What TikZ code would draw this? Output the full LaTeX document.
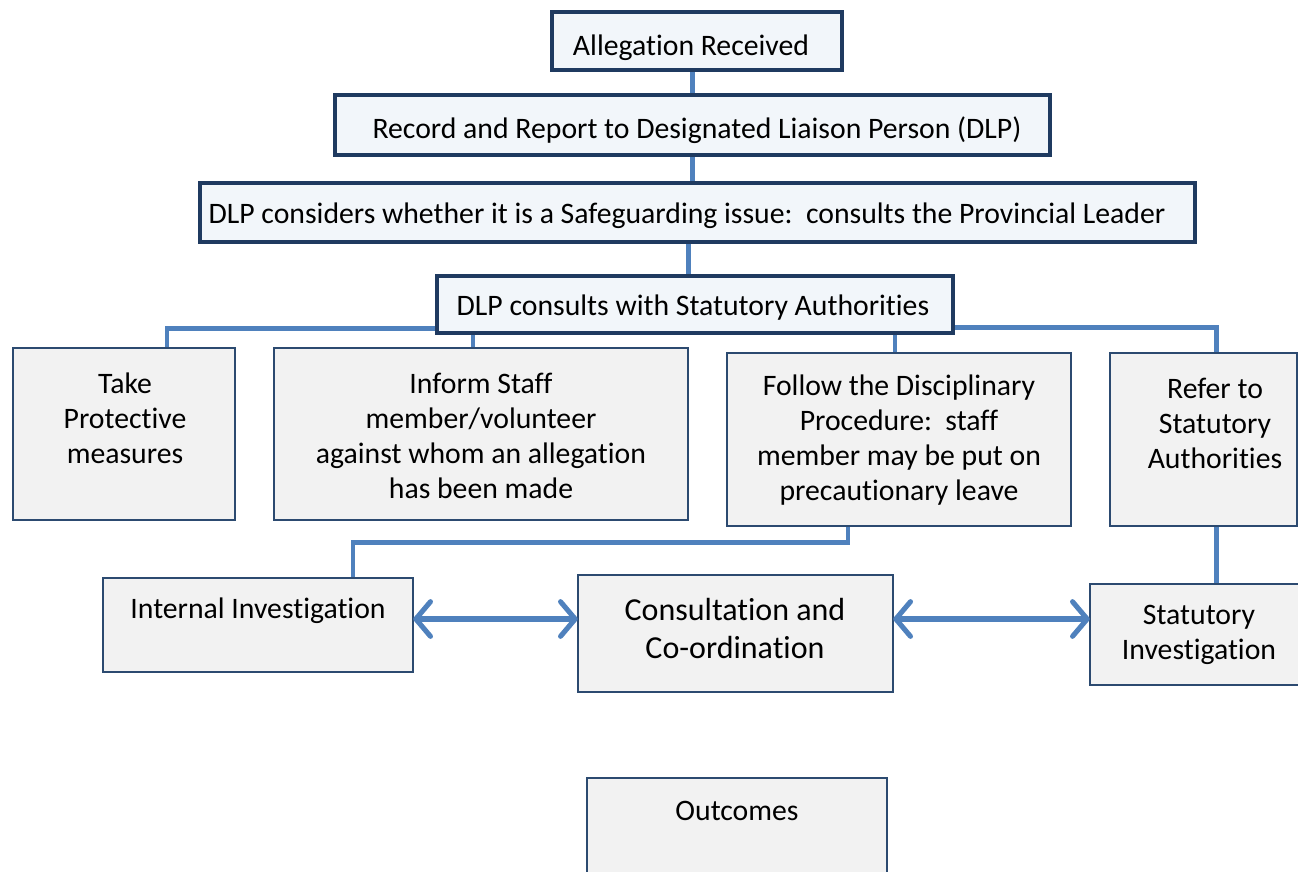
\documentclass[tikz,border=0pt]{standalone}
\usepackage{fontspec}
\setmainfont{Carlito}[Ligatures=NoCommon]
\usetikzlibrary{arrows.meta,calc}
\definecolor{lineblue}{HTML}{4F81BD}
\definecolor{navy}{HTML}{1F3A60}
\definecolor{topfill}{HTML}{F2F6FA}
\definecolor{lowfill}{HTML}{F2F2F2}
\definecolor{lowedge}{HTML}{2C4A70}
\tikzset{
  topbox/.style={draw=navy, line width=3pt, fill=topfill, inner sep=0pt},
  lowbox/.style={draw=lowedge, line width=1.4pt, fill=lowfill, inner sep=0pt},
  txt/.style={font=\fontsize{22.3pt}{26.3pt}\selectfont, align=center, inner sep=0pt},
  bigtxt/.style={font=\fontsize{24pt}{28.5pt}\selectfont, align=center, inner sep=0pt},
  conn/.style={draw=lineblue, line width=3.6pt},
  dbl/.style={draw=lineblue, line width=3.8pt, {Straight Barb[length=11pt,width=26pt,round]}-{Straight Barb[length=11pt,width=26pt,round]}},
  frame/.style={inner sep=0pt},
}
\begin{document}
\begin{tikzpicture}[x=0.75pt, y=-0.75pt]
\useasboundingbox (0,0) rectangle (1298,871);

% frames of the boxes
\node[frame, minimum width=290*0.75pt, minimum height=58*0.75pt] (b1) at (697,41) {};
\node[frame, minimum width=715*0.75pt, minimum height=60*0.75pt] (b2) at (692.5,125) {};
\node[frame, minimum width=995*0.75pt, minimum height=59*0.75pt] (b3) at (697.5,212.5) {};
\node[frame, minimum width=516*0.75pt, minimum height=57*0.75pt] (b4) at (695,304.5) {};
\node[frame, minimum width=222*0.75pt, minimum height=172*0.75pt] (take) at (124,434) {};
\node[frame, minimum width=414*0.75pt, minimum height=172*0.75pt] (inform) at (481,434) {};
\node[frame, minimum width=344*0.75pt, minimum height=173*0.75pt] (follow) at (899,439.5) {};
\node[frame, minimum width=187*0.75pt, minimum height=173*0.75pt] (refer) at (1203.5,439.5) {};
\node[frame, minimum width=310*0.75pt, minimum height=94*0.75pt] (internal) at (258,625) {};
\node[frame, minimum width=315*0.75pt, minimum height=117*0.75pt] (coord) at (735.5,633.5) {};
\node[frame, minimum width=212*0.75pt, minimum height=101*0.75pt] (stat) at (1196,634.5) {};
\node[frame, minimum width=300*0.75pt, minimum height=102*0.75pt] (outc) at (737,829) {};

% connectors
\draw[conn] (b1.south -| b2.north) -- (b2.north);
\draw[conn] (b2.south) -- (b2.south |- b3.north);
\draw[conn] ($(b3.south)+(-9,0)$) coordinate (c3) -- (c3 |- b4.north);
\draw[conn] ($(b4.south west)+(0,-5)$) -| ($(take.north)+(43,0)$);
\draw[conn] ($(inform.north)+(-8,0)$) coordinate (i1) -- (i1 |- b4.south);
\draw[conn] ($(follow.north)+(-4,0)$) coordinate (f1) -- (f1 |- b4.south);
\draw[conn] ($(b4.south east)+(0,-6)$) -| ($(refer.north)+(13,0)$);
\draw[conn] ($(follow.south)+(-51,0)$) -- ++(0,16) -| ($(internal.north)+(95,0)$);
\draw[conn] ($(refer.south)+(13,0)$) coordinate (r1) -- (r1 |- stat.north);

% boxes
\draw[topbox] (b1.north west) rectangle (b1.south east);
\draw[topbox] (b2.north west) rectangle (b2.south east);
\draw[topbox] (b3.north west) rectangle (b3.south east);
\draw[topbox] (b4.north west) rectangle (b4.south east);
\foreach \n in {take,inform,follow,refer,internal,coord,stat,outc}
  \draw[lowbox] (\n.north west) rectangle (\n.south east);

% arrows
\draw[dbl] ($(internal.east)+(0,-6)$) coordinate (a1) -- (a1 -| coord.west);
\draw[dbl] (a1 -| coord.east) -- (a1 -| stat.west);

% texts
\node[txt] (t1) at (691,48) {Allegation Received};
\node[txt] (t2) at (697,130) {Record and Report to Designated Liaison Person (DLP)};
\node[txt] (t3) at (687,216) {DLP considers whether it is a Safeguarding issue:\ \ consults the Provincial Leader};
\node[txt] (t4) at (693,308) {DLP consults with Statutory Authorities};
\node[txt] (t5) at (125,418) {Take\\Protective\\measures};
\node[txt] (t6) at (481,436) {Inform Staff\\member/volunteer\\against whom an allegation\\has been made};
\node[txt] (t7) at (899,440) {Follow the Disciplinary\\Procedure:\ \ staff\\member may be put on\\precautionary leave};
\node[txt] (t8) at (1215,423) {Refer to\\Statutory\\Authorities};
\node[txt] (t9) at (258,611) {Internal Investigation};
\node[bigtxt] (t10) at (735,628) {Consultation and\\Co-ordination};
\node[txt] (t11) at (1199,635) {Statutory\\Investigation};
\node[txt] (t12) at (737,811) {Outcomes};
\end{tikzpicture}
\end{document}
